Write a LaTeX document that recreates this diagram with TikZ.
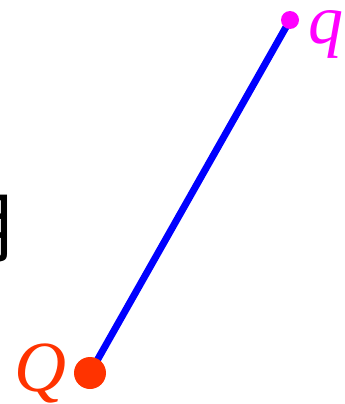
\documentclass[tikz,border=0pt]{standalone}
\usepackage{fontspec}
\setmainfont{Liberation Serif}
\newfontfamily\cjk{Noto Sans CJK SC}
\definecolor{qred}{HTML}{FF3300}
\definecolor{qmag}{HTML}{FF00FF}
\definecolor{lblue}{HTML}{0000FF}
\begin{document}
\begin{tikzpicture}[x=1pt,y=1pt,
  lbl/.style={inner sep=0pt,outer sep=0pt}]
\useasboundingbox (0,0) rectangle (345,-404);
\clip (0,0) rectangle (345,-404);
\node[lbl,anchor=base east] (ch) at (22,-256) {\fontsize{78}{78}\selectfont\cjk 月};
\coordinate (Qp) at (90,-373);
\coordinate (qp) at (290,-20);
\draw[lblue,line width=7pt] (Qp) -- (qp);
\fill[qred] (Qp) circle (16);
\fill[qmag] (qp) circle (9);
\node[lbl,anchor=base west,text=qred] (Ql) at (14,-391) {\fontsize{72}{72}\selectfont\itshape Q};
\node[lbl,anchor=base west,text=qmag] (ql) at (308,-44) {\fontsize{70}{70}\selectfont\itshape q};
\end{tikzpicture}
\end{document}
